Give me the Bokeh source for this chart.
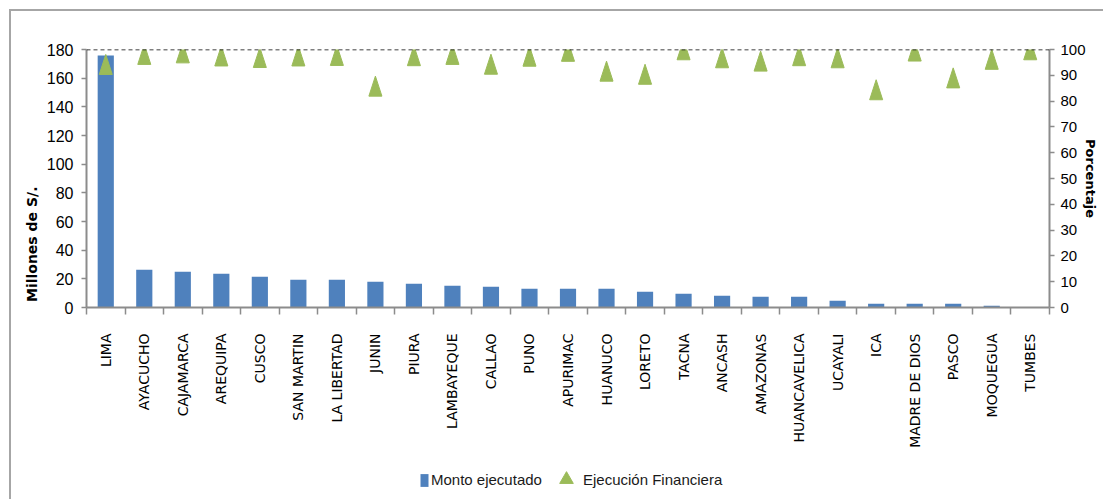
import math
from bokeh.plotting import figure
from bokeh.layouts import column
from bokeh.models import (Range1d, LinearAxis, FixedTicker, Span, Legend, LegendItem,
                          ColumnDataSource)
from bokeh.embed import file_html
from bokeh.resources import INLINE

# Gasto ejecutado por departamento (millones de S/.) y % de ejecución financiera
departamentos = ["LIMA", "AYACUCHO", "CAJAMARCA", "AREQUIPA", "CUSCO", "SAN MARTIN",
                 "LA LIBERTAD", "JUNIN", "PIURA", "LAMBAYEQUE", "CALLAO", "PUNO",
                 "APURIMAC", "HUANUCO", "LORETO", "TACNA", "ANCASH", "AMAZONAS",
                 "HUANCAVELICA", "UCAYALI", "ICA", "MADRE DE DIOS", "PASCO",
                 "MOQUEGUA", "TUMBES"]
monto = [175.8, 26.3, 24.9, 23.5, 21.4, 19.4, 19.4, 18.0, 16.6, 15.2, 14.5, 13.1,
         13.1, 13.1, 11.0, 9.6, 8.2, 7.5, 7.5, 4.7, 2.6, 2.6, 2.6, 1.2, 0.3]
ejecucion = [94.2, 98.1, 98.7, 97.5, 96.9, 97.5, 97.7, 85.8, 97.6, 98.1, 94.3, 97.4,
             99.3, 91.6, 90.4, 99.9, 96.8, 95.5, 97.6, 96.8, 84.4, 99.4, 89.0, 96.2, 99.9]
ticks_monto = list(range(0, 181, 20))
ticks_pct = list(range(0, 101, 10))

BLUE = "#4F81BD"
GREEN = "#9BBB59"
AXIS_GREY = "#8c8c8c"
FRAME_GREY = "#a6a6a6"
NUM_FONT = "Liberation Sans"
NBSP = "\u00a0"

n = len(departamentos)
centros = [i + 0.5 for i in range(n)]   # slot centre of each department
limites = list(range(n + 1))            # slot boundaries
src = ColumnDataSource(dict(x=centros, monto=monto, pct=ejecucion))

# ---------------------------------------------------------------- main chart
p = figure(width=1103, height=459, x_range=Range1d(0, n), y_range=Range1d(0, 180),
           output_backend="svg", toolbar_location=None,
           x_axis_location=None, y_axis_location=None,
           min_border_left=86, min_border_right=54, min_border_top=49, min_border_bottom=152)
p.extra_y_ranges = {"pct": Range1d(0, 100)}
p.grid.visible = False
p.outline_line_color = None
p.background_fill_color = "white"
p.border_fill_color = None

# left axis (millones) and right axis (porcentaje)
left_axis = LinearAxis(ticker=FixedTicker(ticks=ticks_monto),
                       axis_label="Millones de S/." + NBSP * 27)
right_axis = LinearAxis(y_range_name="pct", ticker=FixedTicker(ticks=ticks_pct),
                        axis_label="Porcentaje")
for ax in (left_axis, right_axis):
    ax.axis_line_color = AXIS_GREY
    ax.axis_line_width = 2
    ax.major_tick_line_color = AXIS_GREY
    ax.major_tick_line_width = 1.5
    ax.major_tick_out = 5
    ax.major_tick_in = 0
    ax.minor_tick_line_color = None
    ax.major_label_text_font = NUM_FONT
    ax.major_label_text_color = "black"
    ax.axis_label_text_font = "DejaVu Sans"
    ax.axis_label_text_font_style = "bold"
    ax.axis_label_text_color = "black"
left_axis.major_label_text_font_size = "16px"
left_axis.major_label_standoff = 8
left_axis.axis_label_text_font_size = "14px"
left_axis.axis_label_standoff = 4
right_axis.major_label_text_font_size = "15px"
right_axis.major_label_standoff = 6
right_axis.axis_label_text_font_size = "13px"
right_axis.axis_label_standoff = -6
p.add_layout(left_axis, "left")
p.add_layout(right_axis, "right")

# bottom axis: department names, with ticks on the slot boundaries
name_axis = LinearAxis(ticker=FixedTicker(ticks=centros, minor_ticks=limites),
                       major_label_overrides={c: d for c, d in zip(centros, departamentos)})
name_axis.axis_line_color = AXIS_GREY
name_axis.axis_line_width = 2
name_axis.major_tick_line_color = None
name_axis.major_tick_out = 0
name_axis.major_tick_in = 0
name_axis.minor_tick_line_color = AXIS_GREY
name_axis.minor_tick_line_width = 1.5
name_axis.minor_tick_out = 7
name_axis.minor_tick_in = 0
name_axis.major_label_orientation = math.pi / 2
name_axis.major_label_text_font = "DejaVu Sans"
name_axis.major_label_text_font_size = "14px"
name_axis.major_label_text_color = "black"
name_axis.major_label_standoff = 19
p.add_layout(name_axis, "below")

p.vbar(x="x", top="monto", width=0.42, source=src, fill_color=BLUE, line_color=None)

# tall triangle markers for the execution percentage
half_w = 0.169
half_h = 3.88
xs, ys = [], []
for c, v in zip(centros, ejecucion):
    xs.append([c - half_w, c, c + half_w])
    ys.append([v - half_h, v + half_h, v - half_h])
p.patches(xs=xs, ys=ys, y_range_name="pct", fill_color=GREEN, line_color=GREEN)

# 100 % reference line
p.add_layout(Span(location=100, dimension="width", y_range_name="pct",
                  line_color="black", line_dash="4 3", line_width=1.5))

# ---------------------------------------------------------------- legend strip
lg = figure(width=1103, height=40, x_range=Range1d(0, n), y_range=Range1d(0, 1),
            output_backend="svg", toolbar_location=None,
            x_axis_location=None, y_axis_location=None,
            min_border_left=0, min_border_right=0, min_border_top=0, min_border_bottom=0)
lg.grid.visible = False
lg.outline_line_color = None
lg.background_fill_color = None
lg.border_fill_color = None

# key renderers (hidden; only their legend swatches are shown)
bar_key = lg.vbar(x="x", top="monto", width=0.42, source=src,
                  fill_color=BLUE, line_color=None, visible=False)
tri_key = lg.scatter(x="x", y="pct", source=src, marker="triangle",
                     fill_color=GREEN, line_color=GREEN, visible=False)

common = dict(orientation="horizontal", padding=0, margin=0, border_line_color=None,
              background_fill_alpha=0, inactive_fill_alpha=0,
              label_text_font=NUM_FONT, label_text_font_size="15px",
              label_text_color="#1a1a1a")
leg1 = Legend(items=[LegendItem(label="Monto ejecutado", renderers=[bar_key])],
              location=(333, 11), glyph_width=10, glyph_height=16, label_standoff=2,
              **common)
leg2 = Legend(items=[LegendItem(label="Ejecución Financiera", renderers=[tri_key])],
              location=(463, 3), glyph_width=34, glyph_height=34, label_standoff=0,
              **common)
lg.add_layout(leg1, "center")
lg.add_layout(leg2, "center")

page = column(p, lg, spacing=0)
# thin grey chart-area border along the top and left edges
page.styles = {
    "background": (f"linear-gradient({FRAME_GREY},{FRAME_GREY}) 9px 9px / 2px 100% no-repeat, "
                   f"linear-gradient({FRAME_GREY},{FRAME_GREY}) 9px 9px / 100% 2px no-repeat, "
                   "white"),
}

open("out.html", "w").write(file_html(page, INLINE))
